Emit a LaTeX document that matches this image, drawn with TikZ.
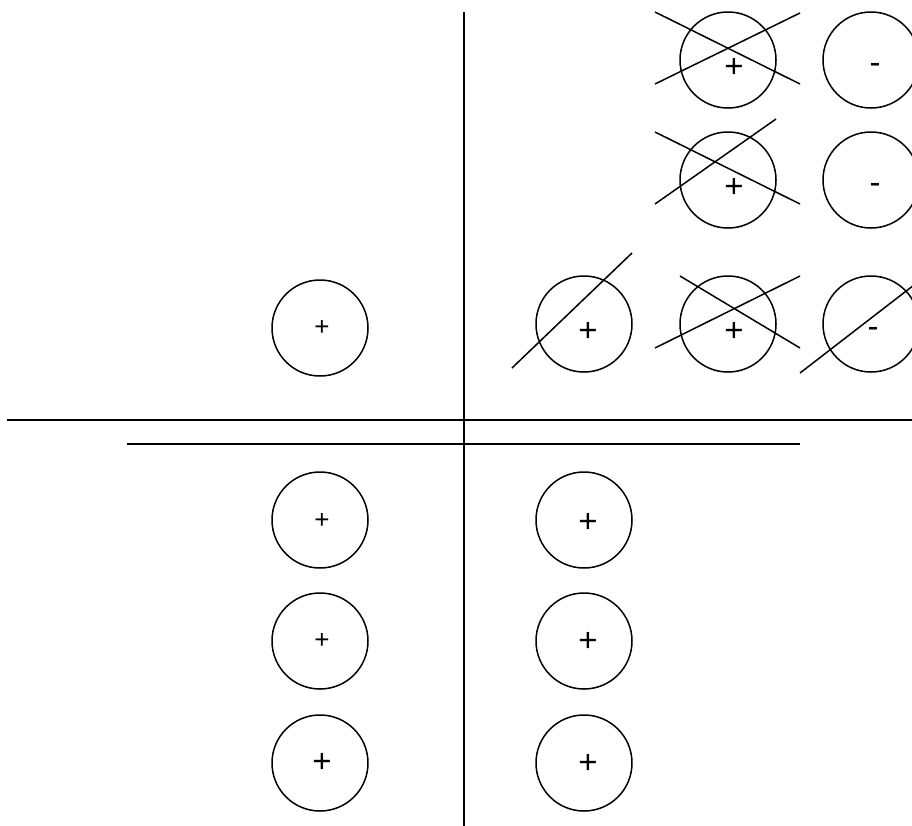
\documentclass[tikz,border=0pt]{standalone}
\usepackage{fontspec}
\setmainfont{Liberation Sans}
\usetikzlibrary{calc}

\begin{document}
\begin{tikzpicture}[
  x=1pt, y=-1pt,
  line width=1.5pt,
  ring/.style={circle, draw=black, line width=1.5pt, minimum size=96pt, inner sep=0pt},
  smallsign/.style={inner sep=0pt, font=\fontsize{26}{26}\selectfont},
  bigsign/.style={inner sep=0pt, font=\fontsize{33}{33}\selectfont},
  strike/.style={line width=1.5pt}
]
  \useasboundingbox (0,0) rectangle (912,825);
  \clip (0,0) rectangle (912,825);

  % axes
  \coordinate (vtop) at (464,12);
  \coordinate (vbot) at (464,830);
  \coordinate (hleft) at (7,420);
  \coordinate (hright) at (920,420);
  \coordinate (gleft) at (127,444);
  \coordinate (gright) at (800,444);
  \draw (vtop) -- (vbot);
  \draw (hleft) -- (hright);
  \draw (gleft) -- (gright);

  % left column
  \node[ring] (a1) at (320,328) {};
  \node[ring] (a2) at (320,520) {};
  \node[ring] (a3) at (320,641) {};
  \node[ring] (a4) at (320,763) {};
  \node[smallsign] at ($(a1)+(2,0)$) {+};
  \node[smallsign] at ($(a2)+(2,1)$) {+};
  \node[smallsign] at ($(a3)+(2,0)$) {+};
  \node[bigsign]   at ($(a4)+(2,0)$) {+};

  % bottom right column
  \node[ring] (b1) at (584,520) {};
  \node[ring] (b2) at (584,641) {};
  \node[ring] (b3) at (584,763) {};
  \node[bigsign] at ($(b1)+(4,3)$) {+};
  \node[bigsign] at ($(b2)+(4,1)$) {+};
  \node[bigsign] at ($(b3)+(4,1)$) {+};

  % top right block
  \node[ring] (c1) at (728,60) {};
  \node[ring] (d1) at (871,60) {};
  \node[ring] (c2) at (728,180) {};
  \node[ring] (d2) at (871,180) {};
  \node[ring] (e3) at (584,324) {};
  \node[ring] (c3) at (728,324) {};
  \node[ring] (d3) at (871,324) {};
  \node[bigsign] at ($(c1)+(6,8)$) {+};
  \node[bigsign] at ($(d1)+(4,8)$) {-};
  \node[bigsign] at ($(c2)+(6,8)$) {+};
  \node[bigsign] at ($(d2)+(4,8)$) {-};
  \node[bigsign] at ($(e3)+(4,8)$) {+};
  \node[bigsign] at ($(c3)+(6,8)$) {+};
  \node[bigsign] at ($(d3)+(2,8)$) {-};

  % crossing strokes
  \draw[strike] ($(c1)+(-73,-48)$) -- ($(c1)+(72,24)$);
  \draw[strike] ($(c1)+(-73,24)$) -- ($(c1)+(72,-47)$);
  \draw[strike] ($(c2)+(-73,-48)$) -- ($(c2)+(72,24)$);
  \draw[strike] ($(c2)+(-73,24)$) -- ($(c2)+(48,-61)$);
  \draw[strike] ($(e3)+(-72,44)$) -- ($(e3)+(48,-71)$);
  \draw[strike] ($(c3)+(-48,-48)$) -- ($(c3)+(72,24)$);
  \draw[strike] ($(c3)+(-73,24)$) -- ($(c3)+(72,-48)$);
  \draw[strike] ($(d3)+(-71,49)$) -- ($(d3)+(65,-56)$);
\end{tikzpicture}
\end{document}
